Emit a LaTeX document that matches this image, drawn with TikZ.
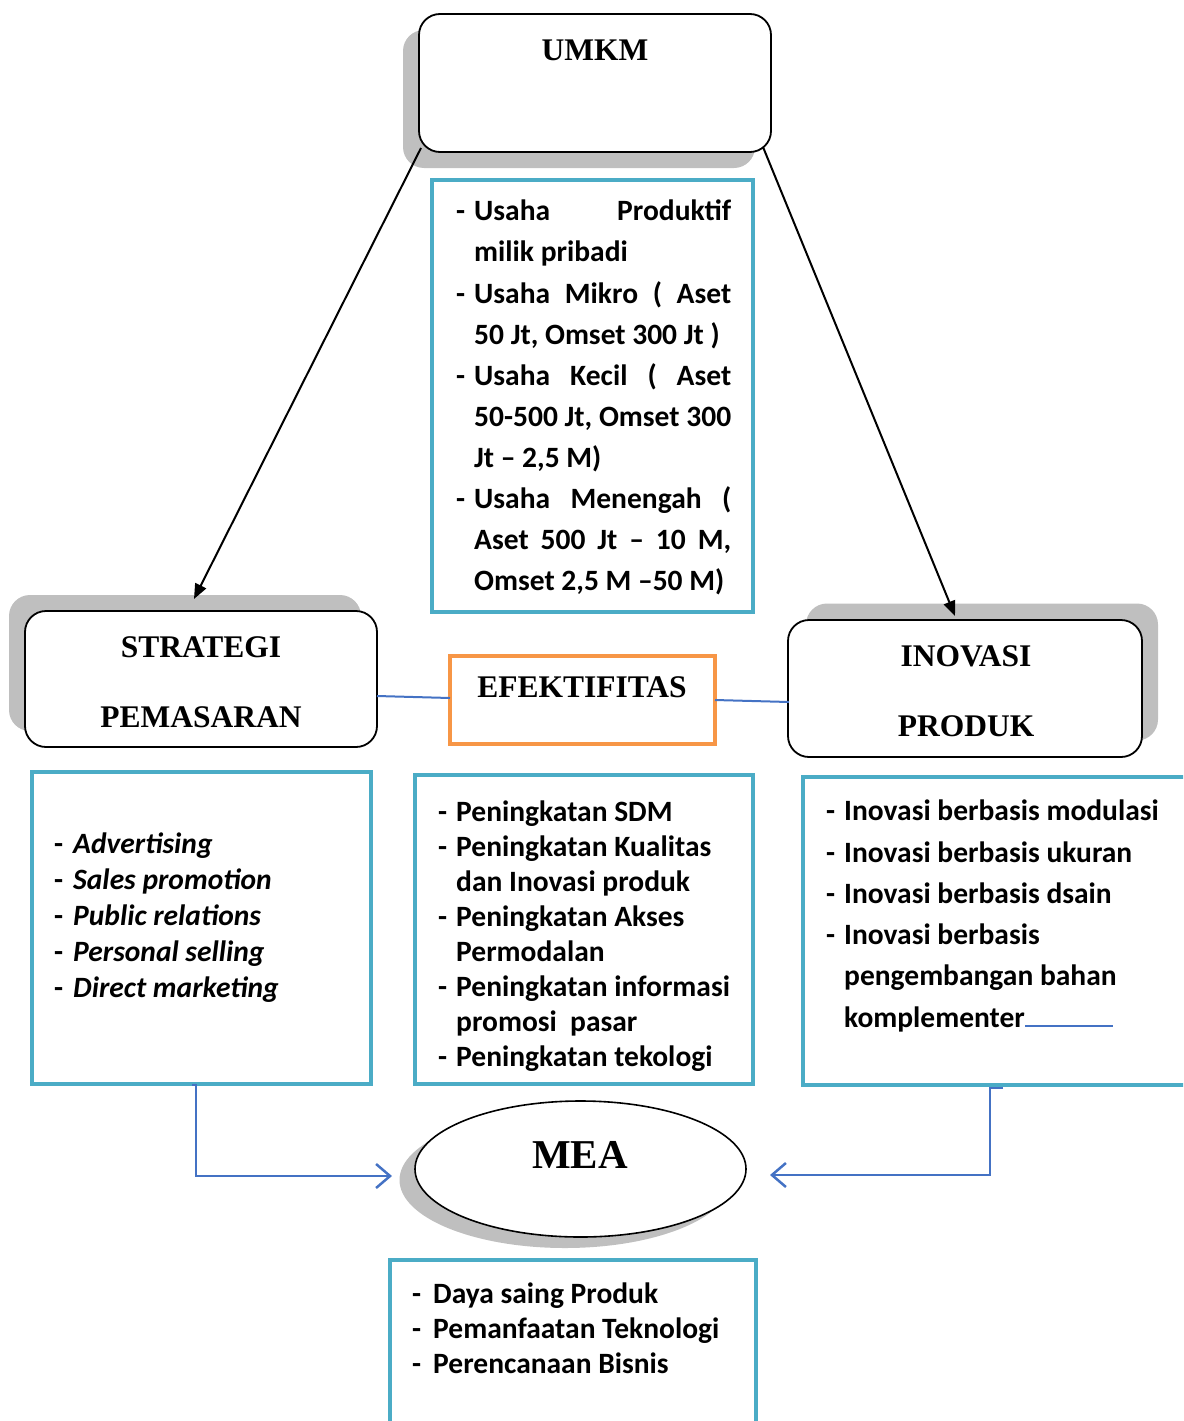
\documentclass[tikz,border=0pt]{standalone}
\usepackage{fontspec}
\setmainfont{Liberation Serif}
\newfontfamily\calib{Carlito}
\usetikzlibrary{arrows.meta,shapes.geometric}
\definecolor{tealc}{HTML}{4BACC6}
\definecolor{orng}{HTML}{F79646}
\definecolor{blu}{HTML}{4472C4}
\definecolor{shd}{HTML}{BFBFBF}
\begin{document}
\begin{tikzpicture}[x=1pt,y=-1pt,
  rbox/.style={draw=black,line width=1.8pt,rounded corners=21pt,fill=white,inner sep=0pt},
  shbox/.style={fill=shd,rounded corners=21pt,inner sep=0pt},
  tbox/.style={draw=tealc,line width=4pt,inner sep=0pt},
  head/.style={font=\bfseries\fontsize{31.5}{31.5}\selectfont,inner sep=0pt,anchor=base},
  item/.style={font=\calib\bfseries\fontsize{29.5}{29.5}\selectfont,inner sep=0pt,anchor=base west},
  itemi/.style={item,font=\calib\bfseries\itshape\fontsize{29.5}{29.5}\selectfont},
  blackarr/.style={draw=black,line width=2pt,-{Triangle[length=15pt,width=12pt]}},
  bluline/.style={draw=blu,line width=2pt},
  bluarr/.style={draw=blu,line width=2.5pt,-{Straight Barb[length=14pt,width=24pt,line width=2.5pt]}}
]
\useasboundingbox (0,0) rectangle (1183,1421);
\clip (0,0) rectangle (1183,1421);

% ---------- UMKM ----------
\node[shbox,minimum width=352pt,minimum height=138pt] (umkmsh) at (579,99) {};
\node[rbox,minimum width=352pt,minimum height=138pt] (umkm) at (595,83) {};
\node[head] (umkmt) at (595,61) {UMKM};

% ---------- central teal box ----------
\node[tbox,minimum width=321pt,minimum height=432pt] (cbox) at (592.5,396) {};
\newcommand{\dsh}{\makebox[18pt][l]{-}}
\node[item] (c1) at (456,220) {\dsh\hbox to 257pt{Usaha\hfill Produktif}};
\node[item] (c2) at (474,261) {milik pribadi};
\node[item] (c3) at (456,303) {\dsh\hbox to 257pt{Usaha\hfill Mikro\hfill (\hfill Aset}};
\node[item] (c4) at (474,344) {50 Jt, Omset 300 Jt )};
\node[item] (c5) at (456,385) {\dsh\hbox to 257pt{Usaha\hfill Kecil\hfill (\hfill Aset}};
\node[item] (c6) at (474,426) {\hbox to 257pt{50-500 Jt, Omset 300}};
\node[item] (c7) at (474,467) {Jt – 2,5 M)};
\node[item] (c8) at (456,508) {\dsh\hbox to 257pt{Usaha\hfill Menengah\hfill (}};
\node[item] (c9) at (474,549) {\hbox to 257pt{Aset\hfill 500\hfill Jt\hfill –\hfill 10\hfill M,}};
\node[item] (c10) at (474,590) {Omset 2,5 M –50 M)};

% ---------- STRATEGI PEMASARAN ----------
\node[shbox,minimum width=352pt,minimum height=136pt] (stratsh) at (185,663) {};
\node[rbox,minimum width=352pt,minimum height=136pt] (strat) at (201,679) {};
\node[head] (strat1) at (201,657) {STRATEGI};
\node[head] (strat2) at (201,727) {PEMASARAN};

% ---------- INOVASI PRODUK ----------
\node[shbox,minimum width=352pt,minimum height=137pt] (inovsh) at (982,672) {};
\node[rbox,minimum width=354pt,minimum height=137pt] (inov) at (965,688.5) {};
\node[head] (inov1) at (966,666) {INOVASI};
\node[head] (inov2) at (966,736) {PRODUK};

% ---------- EFEKTIFITAS ----------
\node[draw=orng,line width=4.5pt,fill=white,minimum width=265pt,minimum height=88pt,inner sep=0pt] (efek) at (582.5,700) {};
\node[head] (efekt) at (582,697) {EFEKTIFITAS};

\coordinate (sR) at (377,696);
\coordinate (eL) at (450,698);
\coordinate (eR) at (715,700);
\coordinate (iL) at (789,702);
\draw[bluline] (sR) -- (eL);
\draw[bluline] (eR) -- (iL);

% ---------- black arrows ----------
\coordinate (uL) at (421,148);
\coordinate (sT) at (194,599);
\coordinate (uR) at (763,147);
\coordinate (iT) at (955,616);
\draw[blackarr] (uL) -- (sT);
\draw[blackarr] (uR) -- (iT);

% ---------- left list ----------
\node[tbox,minimum width=339pt,minimum height=312pt] (lbox) at (201.5,928) {};
\node[itemi] (l1) at (54,853) {\makebox[19pt][l]{\upshape -}Advertising};
\node[itemi] (l2) at (54,889) {\makebox[19pt][l]{\upshape -}Sales promotion};
\node[itemi] (l3) at (54,925) {\makebox[19pt][l]{\upshape -}Public relations};
\node[itemi] (l4) at (54,961) {\makebox[19pt][l]{\upshape -}Personal selling};
\node[itemi] (l5) at (54,997) {\makebox[19pt][l]{\upshape -}Direct marketing};

% ---------- middle list ----------
\node[tbox,minimum width=338pt,minimum height=309pt] (mbox) at (584,929.5) {};
\node[item] (m1) at (438,821) {\dsh Peningkatan SDM};
\node[item] (m2) at (438,856) {\dsh Peningkatan Kualitas};
\node[item] (m3) at (456,891) {dan Inovasi produk};
\node[item] (m4) at (438,926) {\dsh Peningkatan Akses};
\node[item] (m5) at (456,961) {Permodalan};
\node[item] (m6) at (438,996) {\dsh Peningkatan informasi};
\node[item] (m7) at (456,1031) {promosi\ \ pasar};
\node[item] (m8) at (438,1066) {\dsh Peningkatan tekologi};

% ---------- right list ----------
\node[tbox,minimum width=400pt,minimum height=308pt] (rbx) at (1003,931) {};
\node[item] (r1) at (826,820) {\dsh Inovasi berbasis modulasi};
\node[item] (r2) at (826,862) {\dsh Inovasi berbasis ukuran};
\node[item] (r3) at (826,903) {\dsh Inovasi berbasis dsain};
\node[item] (r4) at (826,944) {\dsh Inovasi berbasis};
\node[item] (r5) at (844,985) {pengembangan bahan};
\node[item] (r6) at (844,1027) {komplementer};
\coordinate (ul1) at (1025,1026);
\coordinate (ul2) at (1113,1026);
\draw[draw=blu,line width=1.3pt] (ul1) -- (ul2);

% ---------- MEA ----------
\node[ellipse,fill=shd,minimum width=331pt,minimum height=136pt,inner sep=0pt] (measa) at (565,1180) {};
\node[ellipse,draw=black,line width=1.6pt,fill=white,minimum width=331pt,minimum height=136pt,inner sep=0pt] (mea) at (580.5,1169) {};
\node[head,font=\bfseries\fontsize{41}{41}\selectfont] (meat) at (580,1168) {MEA};

% ---------- blue connectors ----------
\coordinate (lc0) at (192,1085);
\coordinate (lc) at (196,1085);
\coordinate (mL) at (392,1176);
\draw[bluarr] (lc0) -- (lc) |- (mL);
\coordinate (rc0) at (1003,1088);
\coordinate (rc) at (990,1088);
\coordinate (mR) at (770,1175);
\draw[bluarr] (rc0) -- (rc) |- (mR);

% ---------- bottom list ----------
\node[tbox,minimum width=366pt,minimum height=200pt] (bbox) at (573,1360) {};
\node[item] (b1) at (412,1303) {\makebox[21pt][l]{-}Daya saing Produk};
\node[item] (b2) at (412,1338) {\makebox[21pt][l]{-}Pemanfaatan Teknologi};
\node[item] (b3) at (412,1373) {\makebox[21pt][l]{-}Perencanaan Bisnis};
\end{tikzpicture}
\end{document}
